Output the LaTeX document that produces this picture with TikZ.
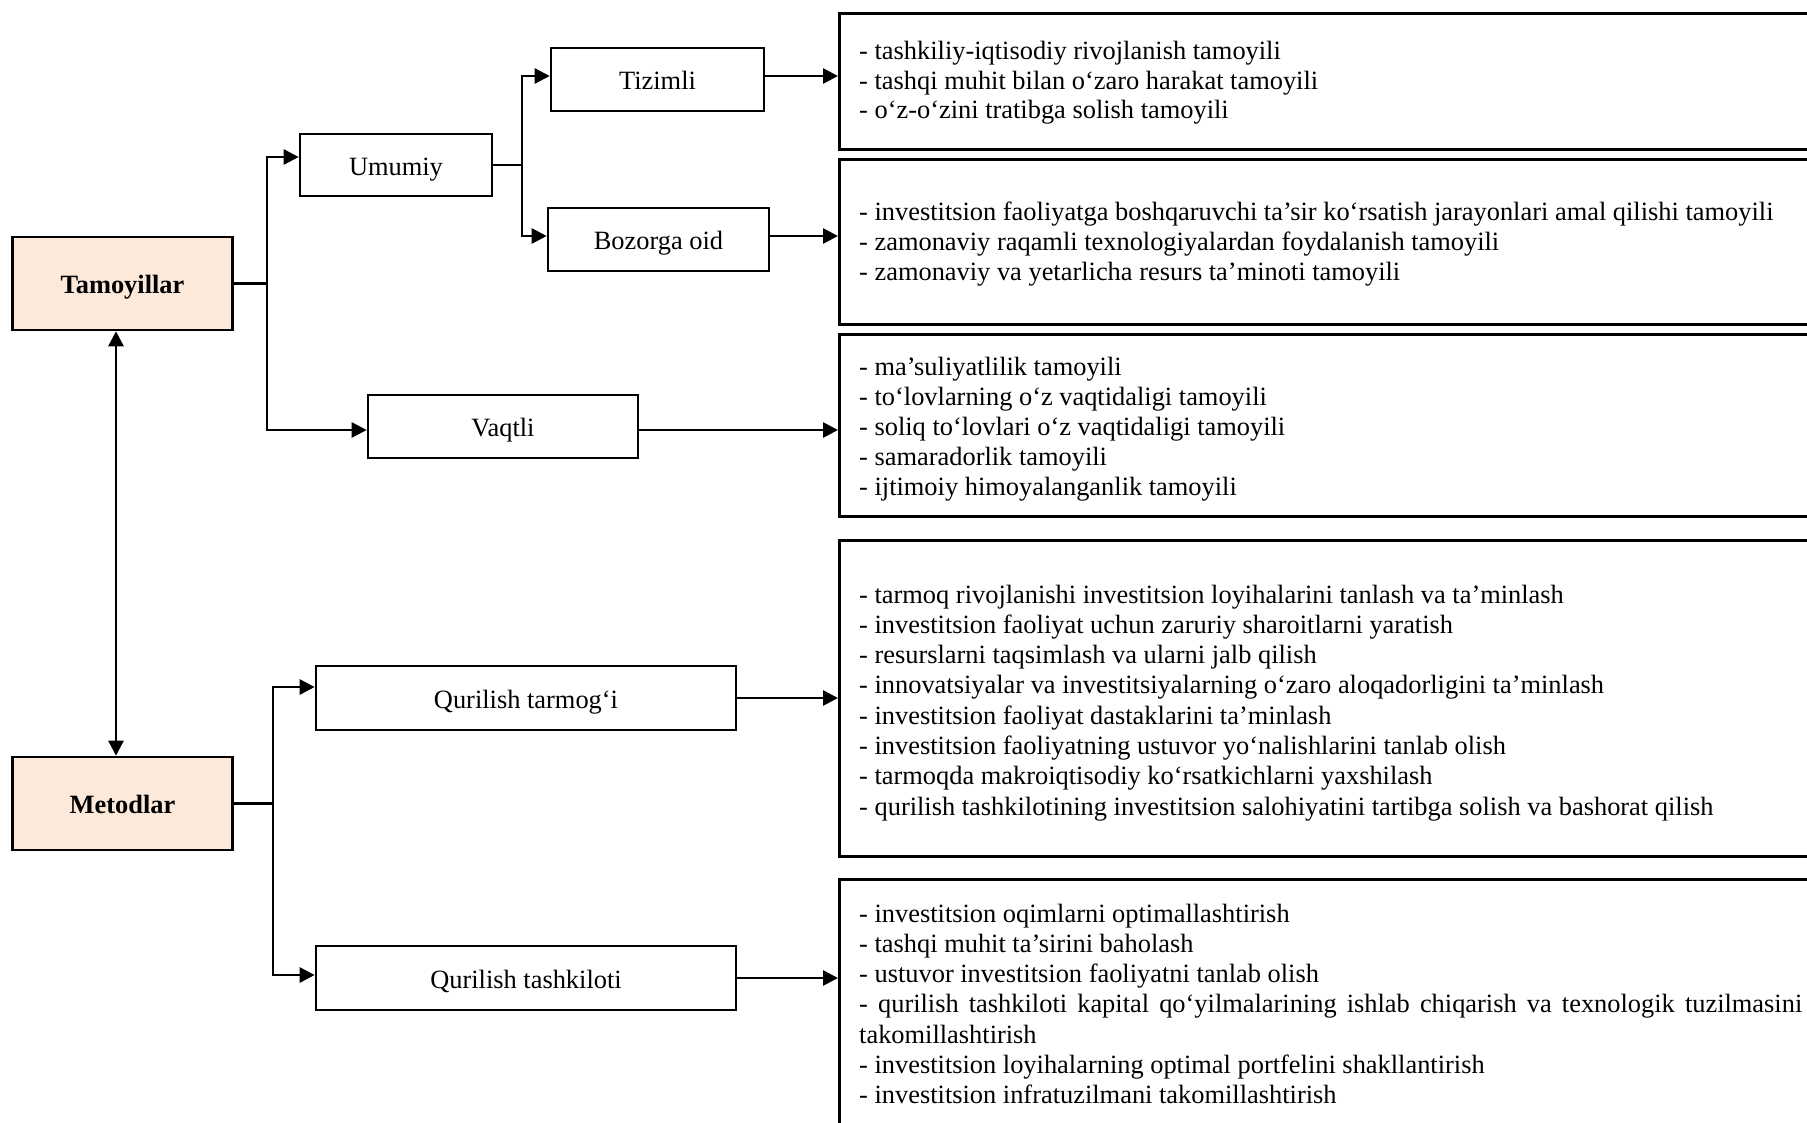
\documentclass[tikz,border=0pt]{standalone}
\usepackage{fontspec}
\setmainfont{Liberation Serif}
\usetikzlibrary{arrows.meta,calc}
\definecolor{peach}{HTML}{FCE9DA}
\begin{document}
\begin{tikzpicture}[x=1pt,y=-1pt,
  every node/.style={font=\fontsize{26.4}{30}\selectfont},
  lbl/.style={draw, line width=2.6pt, inner sep=0pt, align=center, text height=24pt, text depth=4pt},
  head/.style={lbl, fill=peach, font=\fontsize{26.4}{30}\selectfont\bfseries},
  rbox/.style={draw, line width=2.6pt, inner sep=0pt, anchor=north west, minimum width=1000pt},
  item/.style={anchor=base west, inner sep=0pt},
  arr/.style={line width=2.6pt, -{Triangle[length=15pt,width=15pt]}},
  dbl/.style={line width=2.6pt, {Triangle[length=15pt,width=15pt]}-{Triangle[length=15pt,width=15pt]}},
  conn/.style={line width=2.6pt}]
\useasboundingbox (0,0) rectangle (1807,1122);
\clip (0,0) rectangle (1807,1122);

% left column
\node[head, minimum width=220pt, minimum height=93pt] (tam) at (122.5,283.5) {Tamoyillar};
\node[head, minimum width=220pt, minimum height=93pt] (met) at (122.5,803.5) {Metodlar};

% middle boxes
\node[lbl, minimum width=192pt, minimum height=62pt] (umu) at (396,165) {Umumiy};
\node[lbl, minimum width=213pt, minimum height=63pt] (tiz) at (657.5,79.5) {Tizimli};
\node[lbl, minimum width=221pt, minimum height=63pt] (boz) at (658.5,239.5) {Bozorga oid};
\node[lbl, minimum width=270pt, minimum height=63pt] (vaq) at (503,426.5) {Vaqtli};
\node[lbl, minimum width=420pt, minimum height=64pt] (qtar) at (526,698) {Qurilish tarmog‘i};
\node[lbl, minimum width=420pt, minimum height=64pt] (qtash) at (526,978) {Qurilish tashkiloti};

% right content boxes (open to the right edge)
\node[rbox, minimum height=136pt] (r1) at (838,12) {};
\node[rbox, minimum height=165pt] (r2) at (838,158) {};
\node[rbox, minimum height=182pt] (r3) at (838,333) {};
\node[rbox, minimum height=316pt] (r4) at (838,539) {};
\node[rbox, minimum height=280pt] (r5) at (838,878) {};

% junction columns
\coordinate (tj) at (267,0);
\coordinate (uj) at (522,0);
\coordinate (mj) at (273,0);

% connectors
\draw[dbl] ([xshift=-6.5pt]tam.south) -- ([xshift=-6.5pt]met.north);
\draw[conn] (tam.east) -- (tam.east -| tj);
\draw[arr] (tam.east -| tj) |- ([yshift=8pt]umu.west);
\draw[arr] (tam.east -| tj) |- ([yshift=-3.5pt]vaq.west);
\draw[conn] (umu.east) -- (umu.east -| uj);
\draw[arr] (umu.east -| uj) |- ([yshift=3.5pt]tiz.west);
\draw[arr] (umu.east -| uj) |- ([yshift=3.5pt]boz.west);
\draw[conn] (met.east) -- (met.east -| mj);
\draw[arr] (met.east -| mj) |- ([yshift=11pt]qtar.west);
\draw[arr] (met.east -| mj) |- ([yshift=3pt]qtash.west);
\draw[arr] ([yshift=3.5pt]tiz.east) -- ([yshift=3.5pt]tiz.east -| r1.west);
\draw[arr] ([yshift=3.5pt]boz.east) -- ([yshift=3.5pt]boz.east -| r2.west);
\draw[arr] ([yshift=-3.5pt]vaq.east) -- ([yshift=-3.5pt]vaq.east -| r3.west);
\draw[arr] (qtar.east) -- (qtar.east -| r4.west);
\draw[arr] (qtash.east) -- (qtash.east -| r5.west);

% box texts
\foreach \t [count=\i from 0] in {
  - tashkiliy-iqtisodiy rivojlanish tamoyili,
  - tashqi muhit bilan o‘zaro harakat tamoyili,
  - o‘z-o‘zini tratibga solish tamoyili}
  \node[item] (ta\i) at (859,59.5+29.5*\i) {\t};

\foreach \t [count=\i from 0] in {
  - investitsion faoliyatga boshqaruvchi ta’sir ko‘rsatish jarayonlari amal qilishi tamoyili,
  - zamonaviy raqamli texnologiyalardan foydalanish tamoyili,
  - zamonaviy va yetarlicha resurs ta’minoti tamoyili}
  \node[item] (tb\i) at (859,220.5+30*\i) {\t};

\foreach \t [count=\i from 0] in {
  - ma’suliyatlilik tamoyili,
  - to‘lovlarning o‘z vaqtidaligi tamoyili,
  - soliq to‘lovlari o‘z vaqtidaligi tamoyili,
  - samaradorlik tamoyili,
  - ijtimoiy himoyalanganlik tamoyili}
  \node[item] (tc\i) at (859,375+30.2*\i) {\t};

\foreach \t [count=\i from 0] in {
  - tarmoq rivojlanishi investitsion loyihalarini tanlash va ta’minlash,
  - investitsion faoliyat uchun zaruriy sharoitlarni yaratish,
  - resurslarni taqsimlash va ularni jalb qilish,
  - innovatsiyalar va investitsiyalarning o‘zaro aloqadorligini ta’minlash,
  - investitsion faoliyat dastaklarini ta’minlash,
  - investitsion faoliyatning ustuvor yo‘nalishlarini tanlab olish,
  - tarmoqda makroiqtisodiy ko‘rsatkichlarni yaxshilash,
  - qurilish tashkilotining investitsion salohiyatini tartibga solish va bashorat qilish}
  \node[item] (td\i) at (859,603+30.3*\i) {\t};

\foreach \t [count=\i from 0] in {
  - investitsion oqimlarni optimallashtirish,
  - tashqi muhit ta’sirini baholash,
  - ustuvor investitsion faoliyatni tanlab olish,
  \makebox[943pt][s]{- qurilish tashkiloti kapital qo‘yilmalarining ishlab chiqarish va texnologik tuzilmasini},
  takomillashtirish,
  - investitsion loyihalarning optimal portfelini shakllantirish,
  - investitsion infratuzilmani takomillashtirish}
  \node[item] (te\i) at (859,922+30.3*\i) {\t};
\end{tikzpicture}
\end{document}
